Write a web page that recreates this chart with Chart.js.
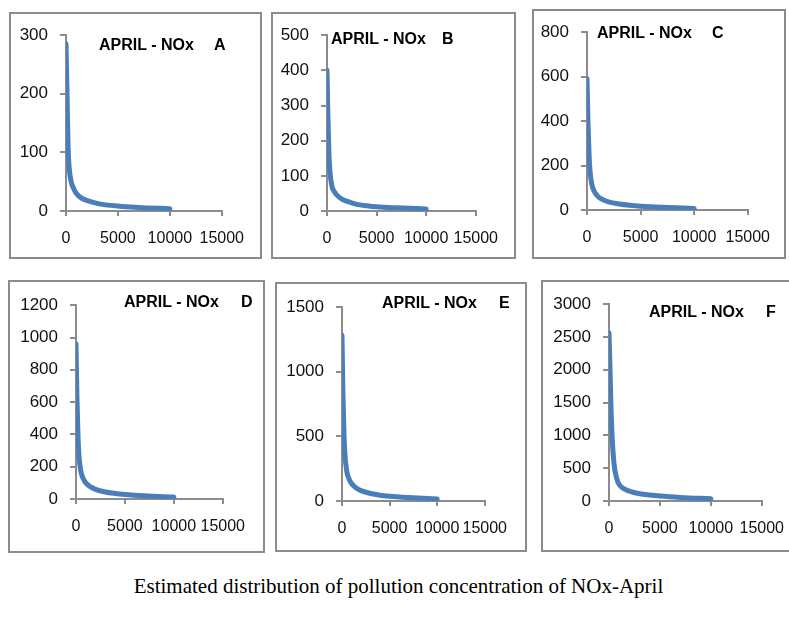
<!DOCTYPE html>
<html>
<head>
<meta charset="utf-8">
<script src="https://cdn.jsdelivr.net/npm/chart.js@4.4.0/dist/chart.umd.min.js"></script>
<style>
  body { margin: 0; width: 789px; height: 617px; overflow: hidden; background: #fff; position: relative; }
  .box { position: absolute; border: 2px solid #8c8c8c; box-sizing: border-box; background: #fff; }
  .cv { position: absolute; }
  .ttl { position: absolute; font: bold 16px "Liberation Sans", Arial, sans-serif; color: #000; white-space: nowrap; line-height: 18px; }
  .cap { position: absolute; left: 0; width: 797px; top: 574px; text-align: center; font: 21px "Liberation Serif", "Times New Roman", serif; color: #000; }
</style>
</head>
<body>

<div class="cap">Estimated distribution of pollution concentration of NOx-April</div>

<script>
// x 값 (데이터 순번)
const xValues = [0, 50, 100, 200, 300, 500, 750, 1000, 1500, 2000, 3000, 4000, 5000, 7000, 10000];

// 각 패널의 NOx 농도
const noxA = [285, 240, 200, 110, 75, 50, 38, 30, 22, 18, 13, 10, 8.5, 6, 4];
const noxB = [400, 330, 260, 160, 110, 70, 55, 45, 34, 28, 19, 15, 12, 9, 6];
const noxC = [590, 480, 380, 240, 165, 105, 78, 62, 46, 37, 27, 21, 17, 12, 7];
const noxD = [960, 780, 620, 400, 270, 170, 125, 100, 75, 60, 43, 34, 28, 20, 12];
const noxE = [1280, 1050, 820, 540, 370, 230, 170, 135, 100, 80, 58, 45, 37, 27, 16];
const noxF = [2560, 2300, 2000, 1400, 1000, 560, 350, 250, 185, 150, 110, 90, 75, 55, 35];

const panelLetters = ['A', 'B', 'C', 'D', 'E', 'F'];
const titleText = 'APRIL - NOx';
const yMax = [300, 500, 800, 1200, 1500, 3000];
const yStep = [100, 100, 200, 200, 500, 500];
const xMax = 15000;
const xStep = 5000;

// 패널 위치: 박스, 축 위치, 제목 위치
const panels = [
  { series: noxA, box: [9, 12, 253, 247],  ax: [66, 227, 23, 211],  t: [99, 36], l: 214 },
  { series: noxB, box: [271, 12, 245, 247], ax: [327, 481, 23, 211], t: [331, 30], l: 442 },
  { series: noxC, box: [532, 9, 254, 250],  ax: [587, 753, 20, 210], t: [597, 24], l: 712 },
  { series: noxD, box: [8, 280, 257, 273],  ax: [76, 228, 293, 499], t: [124, 293], l: 241 },
  { series: noxE, box: [275, 282, 252, 270], ax: [342, 490, 295, 501], t: [382, 294], l: 499 },
  { series: noxF, box: [541, 280, 260, 272], ax: [609, 767, 292, 501], t: [649, 303], l: 766 }
];

const axisGray = '#8c8c8c';
const tickFont = { family: '"Liberation Sans", Arial, sans-serif', size: 16 };
const plain = v => String(v);   // 천 단위 쉼표 없이

panels.forEach((p, i) => {
  const box = document.createElement('div');
  box.className = 'box';
  box.style.left = p.box[0] + 'px';
  box.style.top = p.box[1] + 'px';
  box.style.width = p.box[2] + 'px';
  box.style.height = p.box[3] + 'px';
  document.body.appendChild(box);

  const yW = 60, xH = 48, padT = 10, padR = 30;
  const [axL, axR, axT, axB] = p.ax;
  const cv = document.createElement('canvas');
  cv.className = 'cv';
  const w = axR - axL + yW + padR;
  const h = axB - axT + padT + xH;
  cv.style.left = (axL - yW) + 'px';
  cv.style.top = (axT - padT) + 'px';
  cv.style.width = w + 'px';
  cv.style.height = h + 'px';
  cv.width = w;
  cv.height = h;
  document.body.appendChild(cv);

  const t = document.createElement('div');
  t.className = 'ttl';
  t.style.left = p.t[0] + 'px';
  t.style.top = p.t[1] + 'px';
  t.textContent = titleText;
  document.body.appendChild(t);

  const l = document.createElement('div');
  l.className = 'ttl';
  l.style.left = p.l + 'px';
  l.style.top = p.t[1] + 'px';
  l.textContent = panelLetters[i];
  document.body.appendChild(l);

  new Chart(cv.getContext('2d'), {
    type: 'scatter',
    data: {
      datasets: [{
        label: titleText + ' ' + panelLetters[i],
        data: xValues.map((x, k) => ({ x: x, y: p.series[k] })),
        showLine: true,
        borderColor: '#4a7ebb',
        borderWidth: 5,
        pointRadius: 0,
        cubicInterpolationMode: 'monotone',
        borderCapStyle: 'round'
      }]
    },
    options: {
      responsive: false,
      animation: false,
      layout: { padding: { top: padT, right: padR, left: 0, bottom: 0 } },
      plugins: { legend: { display: false }, tooltip: { enabled: false } },
      scales: {
        x: {
          type: 'linear',
          min: 0, max: xMax,
          afterFit: s => { s.height = xH; },
          border: { color: axisGray, width: 2 },
          grid: { drawOnChartArea: false, drawTicks: true, tickLength: 5, color: axisGray, lineWidth: 2 },
          ticks: { stepSize: xStep, color: '#111', font: tickFont, padding: 13, maxRotation: 0, autoSkip: false, callback: plain }
        },
        y: {
          min: 0, max: yMax[i],
          afterFit: s => { s.width = yW; },
          border: { color: axisGray, width: 2 },
          grid: { drawOnChartArea: false, drawTicks: true, tickLength: 6, color: axisGray, lineWidth: 2 },
          ticks: { stepSize: yStep[i], color: '#111', font: { family: tickFont.family, size: 17 }, padding: 12, autoSkip: false, callback: plain }
        }
      }
    }
  });
});
</script>
</body>
</html>
